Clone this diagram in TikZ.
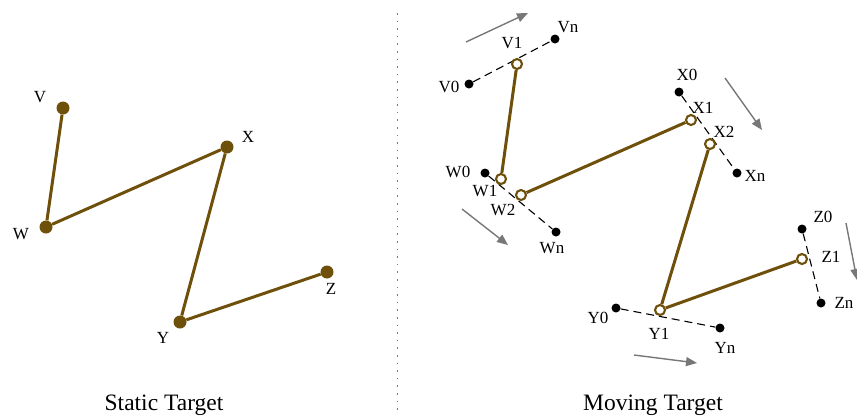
\documentclass[tikz,border=0pt]{standalone}
\usepackage{fontspec}
\setmainfont{Liberation Serif}
\usetikzlibrary{arrows.meta}
\definecolor{rod}{HTML}{6E500B}
\definecolor{drift}{HTML}{777777}

\begin{document}
\begin{tikzpicture}[x=1pt,y=-1pt,>=Stealth,font=\fontsize{17}{20}\selectfont,
  target/.style={circle,fill=rod,inner sep=0pt,minimum size=13pt},
  joint/.style={circle,draw=rod,line width=2.1pt,fill=white,inner sep=0pt,minimum size=10pt},
  track/.style={circle,fill=black,inner sep=0pt,minimum size=9pt},
  link/.style={rod,line width=3pt},
  rail/.style={black,line width=1.1pt,dash pattern=on 8pt off 5pt},
  move/.style={drift,line width=1.4pt,-{Triangle[length=11pt,width=9pt]}},
  tag/.style={inner sep=0pt},
  caption/.style={font=\fontsize{23.5}{28}\selectfont,anchor=base}]
\useasboundingbox (0,0) rectangle (857,416);
% --- static target
\node[target] (V) at (63,108) {};
\node[target] (W) at (46,227) {};
\node[target] (X) at (227,147) {};
\node[target] (Y) at (180,322) {};
\node[target] (Z) at (327,272) {};
\draw[link] (V) -- (W) -- (X) -- (Y) -- (Z);
\node[tag] (lV) at (40,97) {V};
\node[tag] (lW) at (21,234) {W};
\node[tag] (lX) at (248,137) {X};
\node[tag] (lY) at (163,338) {Y};
\node[tag] (lZ) at (331,289) {Z};
\node[caption] (cStatic) at (164,410) {Static Target};
% --- divider
\coordinate (top) at (397,13);
\coordinate (bot) at (397,410);
\draw[drift,line width=1pt,dash pattern=on 1.6pt off 6pt] (top) -- (bot);
% --- moving target: tracks
\node[track] (V0) at (469,84) {};
\node[track] (Vn) at (555,39) {};
\node[track] (W0) at (485,173) {};
\node[track] (Wn) at (556,232) {};
\node[track] (X0) at (679,92) {};
\node[track] (Xn) at (737,173) {};
\node[track] (Y0) at (616,308) {};
\node[track] (Yn) at (720,328) {};
\node[track] (Z0) at (802,229) {};
\node[track] (Zn) at (821,303) {};
\foreach \a in {V,W,X,Y,Z} {\draw[rail] (\a0) -- (\a n);}
% --- moving target: arm
\node[joint] (V1) at (517,64) {};
\node[joint] (W1) at (501,179) {};
\node[joint] (W2) at (521,195) {};
\node[joint] (X1) at (691,120) {};
\node[joint] (X2) at (710,144) {};
\node[joint] (Y1) at (660,310) {};
\node[joint] (Z1) at (802,259) {};
\draw[link] (V1) -- (W1);
\draw[link] (W2) -- (X1);
\draw[link] (X2) -- (Y1) -- (Z1);
% labels
\node[tag] (lV0) at (449,87) {V0};
\node[tag] (lV1) at (512,43) {V1};
\node[tag] (lVn) at (568,27) {Vn};
\node[tag] (lW0) at (458,172) {W0};
\node[tag] (lW1) at (485,191) {W1};
\node[tag] (lW2) at (503,210) {W2};
\node[tag] (lWn) at (552,248) {Wn};
\node[tag] (lX0) at (687,75) {X0};
\node[tag] (lX1) at (703,108) {X1};
\node[tag] (lX2) at (724,132) {X2};
\node[tag] (lXn) at (755,176) {Xn};
\node[tag] (lY0) at (598,318) {Y0};
\node[tag] (lY1) at (659,334) {Y1};
\node[tag] (lYn) at (725,348) {Yn};
\node[tag] (lZ0) at (823,217) {Z0};
\node[tag] (lZ1) at (831,257) {Z1};
\node[tag] (lZn) at (844,303) {Zn};
% --- drift arrows
\coordinate (aV) at (466,42);  \coordinate (bV) at (528,13);
\coordinate (aW) at (462,209); \coordinate (bW) at (508,245);
\coordinate (aX) at (725,78);  \coordinate (bX) at (762,130);
\coordinate (aY) at (634,355); \coordinate (bY) at (697,363);
\coordinate (aZ) at (846,223); \coordinate (bZ) at (857,280);
\foreach \a in {V,W,X,Y,Z} {\draw[move] (a\a) -- (b\a);}
\node[caption] (cMoving) at (653,410) {Moving Target};
\end{tikzpicture}
\end{document}
